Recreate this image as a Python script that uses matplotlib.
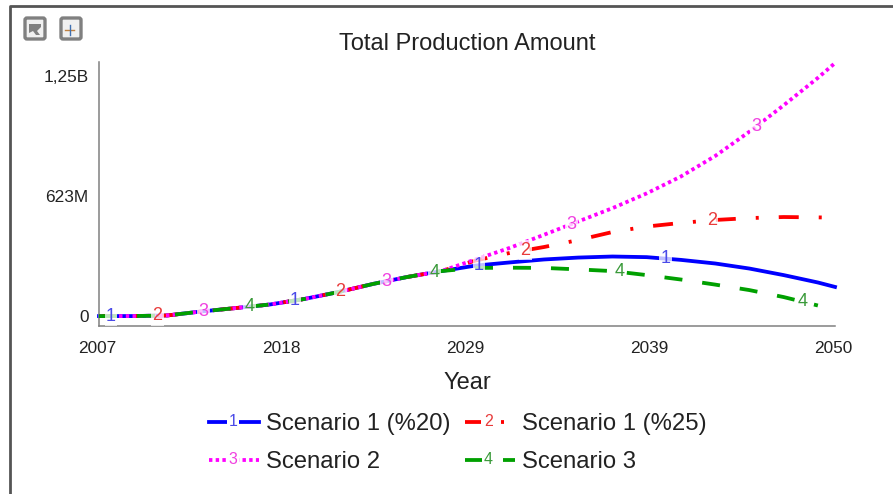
#!/usr/bin/env python3
import numpy as np
import matplotlib
matplotlib.use("Agg")
import matplotlib.pyplot as plt
from matplotlib.legend_handler import HandlerLine2D
from matplotlib.lines import Line2D
from matplotlib.patches import FancyBboxPatch, Polygon
from matplotlib.text import Text
from matplotlib.transforms import Affine2D, ScaledTranslation

plt.rcParams['font.family'] = ['Liberation Sans', 'DejaVu Sans']
plt.rcParams['lines.scale_dashes'] = False

W, H = 893, 494
PX = 0.72  # one pixel in points at dpi 100

# production in millions
years_early = [2007, 2009, 2011, 2013, 2015, 2017, 2019, 2021, 2023, 2025, 2027]
common_early = [47, 47, 50, 69, 85, 102, 128, 161, 199, 232, 260]

years_s1_20 = [2029, 2031, 2033, 2035, 2037, 2039, 2041, 2043, 2045, 2047, 2049, 2050]
s1_20 = [286, 301, 315, 324, 329, 326, 313, 296, 272, 241, 206, 185]

years_s1_25 = [2029, 2031, 2033, 2035, 2037, 2039, 2041, 2043, 2045, 2047, 2049.3]
s1_25 = [310, 346, 374, 407, 445, 471, 488, 502, 511, 516, 514]

years_s2 = [2029, 2031, 2033, 2035, 2037, 2039, 2041, 2043, 2045, 2047, 2049, 2050]
s2 = [315, 370, 432, 495, 558, 628, 708, 805, 920, 1045, 1175, 1245]

years_s3 = [2029, 2031, 2033, 2035, 2037, 2039, 2041, 2043, 2045, 2047, 2049]
s3 = [275, 276, 275, 268, 260, 241, 220, 196, 170, 137, 97]

x_ticks = [2007, 2017.75, 2028.5, 2039.25, 2050]
x_tick_labels = ['2007', '2018', '2029', '2039', '2050']
y_ticks = [0, 625, 1250]
y_tick_labels = ['0', '623M', '1,25B']

names = ['Scenario 1 (%20)', 'Scenario 1 (%25)', 'Scenario 2', 'Scenario 3']
colors = ['#0000ff', '#ff0000', '#ff00ff', '#00a000']
label_colors = ['#4a4ae8', '#e83a3a', '#f040e0', '#3a9a3a']
dashes = [None, (20, 20, 3, 20), (3.4, 3.3), (18, 20)]
dash_offsets = [0, 4, 0, 0]
number_years = [
    [2007.7, 2018.45, 2029.2, 2040.1],
    [2010.4, 2021.1, 2031.9, 2042.8],
    [2013.1, 2023.8, 2034.6, 2045.4],
    [2015.8, 2026.6, 2037.4, 2048.1],
]


class NumberedLine(HandlerLine2D):
    # legend key: the line sample with the curve number on top of it
    def __init__(self, number, color):
        super().__init__()
        self.number = number
        self.color = color

    def create_artists(self, legend, orig, xd, yd, width, height, fontsize, trans):
        y = (height - yd) / 2
        line = Line2D([-xd, -xd + width], [y, y])
        self.update_prop(line, orig, legend)
        line.set_transform(trans)
        txt = Text(-xd + width / 2 - 1, y, self.number, color=self.color, fontsize=11.5,
                   ha='center', va='center', transform=trans,
                   bbox=dict(fc='white', ec='none', pad=1))
        return [line, txt]


fig = plt.figure(figsize=(W / 100, H / 100), dpi=100, facecolor='white')
ax = fig.add_axes([99 / W, (H - 326) / H, 736 / W, 264 / H])
ax.set_xlim(2007, 2050)
ax.set_ylim(0, 1250)

series = [
    (years_early + years_s1_20, common_early + s1_20),
    (years_early + years_s1_25, common_early + s1_25),
    (years_early + years_s2, common_early + s2),
    (years_early + years_s3, common_early + s3),
]

handles = []
for i in range(4):
    xs, ys = series[i]
    style = '-' if dashes[i] is None else (dash_offsets[i] * PX, tuple(d * PX for d in dashes[i]))
    ln, = ax.plot(xs, ys, color=colors[i], lw=3.8 * PX, linestyle=style,
                  dash_capstyle='butt', label=names[i], zorder=2 + i, clip_on=False)
    handles.append(ln)
    for yr in number_years[i]:
        ax.text(yr, np.interp(yr, xs, ys), str(i + 1), color=label_colors[i], fontsize=13,
                ha='center', va='center', zorder=10,
                bbox=dict(fc='white', ec='none', alpha=0.75, pad=1))

ax.spines['top'].set_visible(False)
ax.spines['right'].set_visible(False)
ax.spines['left'].set_color('#808080')
ax.spines['bottom'].set_color('#808080')
ax.spines['left'].set_linewidth(1.1)
ax.spines['bottom'].set_linewidth(1.1)

ax.set_xticks(x_ticks)
ax.set_xticklabels(x_tick_labels)
ax.set_yticks(y_ticks)
ax.set_yticklabels(y_tick_labels)
ax.tick_params(length=0, labelsize=12.4, labelcolor='#222222')
ax.tick_params(axis='x', pad=10.5)
ax.tick_params(axis='y', pad=7.5)

# end labels of the value axis sit inside the axis span
labels = ax.get_yticklabels()
labels[0].set_transform(labels[0].get_transform() + ScaledTranslation(0, 10 / 100, fig.dpi_scale_trans))
labels[1].set_transform(labels[1].get_transform() + ScaledTranslation(0, -2 / 100, fig.dpi_scale_trans))
labels[2].set_transform(labels[2].get_transform() + ScaledTranslation(0, -14 / 100, fig.dpi_scale_trans))
for label in ax.get_xticklabels():
    label.set_transform(label.get_transform() + ScaledTranslation(-2 / 100, 0, fig.dpi_scale_trans))

fig.text(467 / W, 1 - 44 / H, 'Total Production Amount', fontsize=17, color='#222222',
         ha='center', va='center')
fig.text(467 / W, 1 - 383 / H, 'Year', fontsize=17, color='#222222', ha='center', va='center')

order = [0, 2, 1, 3]
leg = fig.legend([handles[i] for i in order], [names[i] for i in order],
                 handler_map={handles[i]: NumberedLine(str(i + 1), label_colors[i]) for i in range(4)},
                 ncol=2, frameon=False, fontsize=17.2, labelcolor='#222222',
                 handlelength=2.1, handleheight=0.7, handletextpad=0.3, columnspacing=0.58,
                 labelspacing=0.68, borderpad=0, borderaxespad=0,
                 loc='upper left', bbox_to_anchor=(209 / W, 1 - 413 / H))

# panel frame and the two toolbar buttons, in top-left pixel coordinates
px = Affine2D().scale(1 / W, -1 / H).translate(0, 1) + fig.transFigure
fig.add_artist(Line2D([10, 10, W], [H, 6, 6], color='#555555', lw=2, transform=px))
for left in [24, 60]:
    fig.add_artist(FancyBboxPatch((left + 2, 19), 18, 19, boxstyle='round,pad=1,rounding_size=2',
                                  fc='#f0f0f0', ec='#808080', lw=2.4, transform=px))
fig.add_artist(Polygon([[29, 24], [41, 24], [41, 27], [37, 31], [40, 35], [36, 35], [33, 31], [29, 33]],
                       closed=True, fc='#808080', ec='none', transform=px))
fig.add_artist(Line2D([65, 74], [30, 30], color='#c08040', lw=1, transform=px))
fig.add_artist(Line2D([69.5, 69.5], [25, 35], color='#4070b0', lw=1, transform=px))

fig.savefig('out.png', dpi=100)
